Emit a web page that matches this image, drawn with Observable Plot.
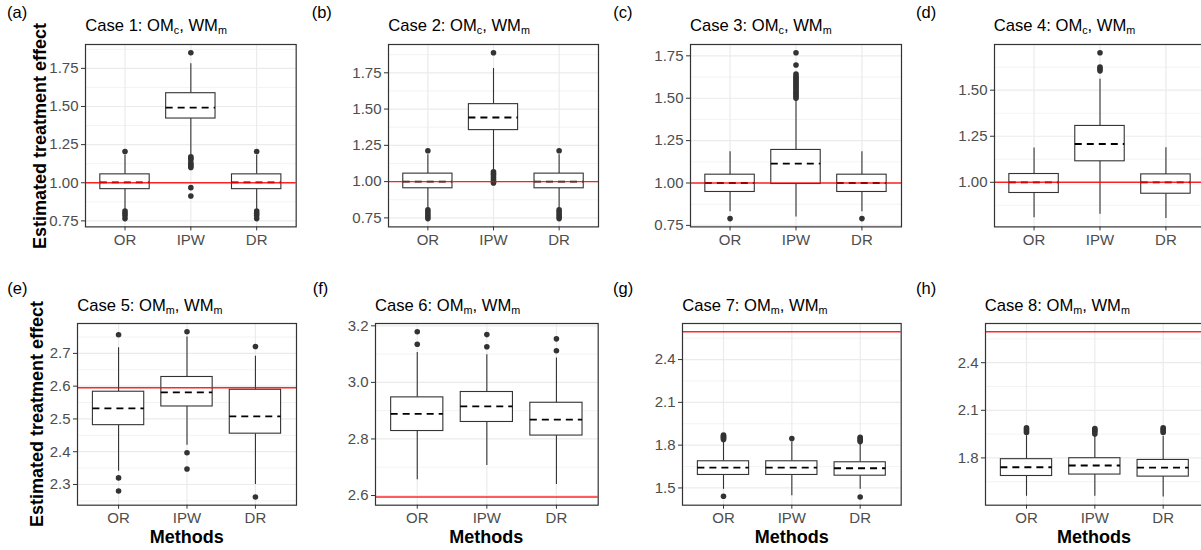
<!DOCTYPE html>
<html>
<head>
<meta charset="utf-8">
<script src="https://cdn.jsdelivr.net/npm/d3@7"></script>
<script src="https://cdn.jsdelivr.net/npm/@observablehq/plot@0.6"></script>
<style>
html, body { margin: 0; padding: 0; background: #fff; }
#root { position: relative; width: 1201px; height: 550px; overflow: hidden; background: #fff;
        font-family: "Liberation Sans", Arial, Helvetica, sans-serif; }
.lbl { position: absolute; white-space: nowrap; line-height: 1; color: #000; }
.sub { font-size: 0.65em; position: relative; top: 0.3em; }
.panel { position: absolute; }
.panel svg { overflow: visible; max-width: none !important; display: block; }
</style>
</head>
<body>
<div id="root"></div>
<script>
// ---------------- data ----------------
const methods = ["OR", "IPW", "DR"];
const panelTags = ["(a)", "(b)", "(c)", "(d)", "(e)", "(f)", "(g)", "(h)"];
const caseNumbers = [1, 2, 3, 4, 5, 6, 7, 8];
const omSubscripts = ["c", "c", "c", "c", "m", "m", "m", "m"];
const wmSubscripts = ["m", "m", "m", "m", "m", "m", "m", "m"];
const trueEffect = [1, 1, 1, 1, 2.595, 2.595, 2.595, 2.595];

const yTicks = [
  [0.75, 1.00, 1.25, 1.50, 1.75],
  [0.75, 1.00, 1.25, 1.50, 1.75],
  [0.75, 1.00, 1.25, 1.50, 1.75],
  [1.00, 1.25, 1.50],
  [2.3, 2.4, 2.5, 2.6, 2.7],
  [2.6, 2.8, 3.0, 3.2],
  [1.5, 1.8, 2.1, 2.4],
  [1.8, 2.1, 2.4]
];
const yTickFormats = [".2f", ".2f", ".2f", ".2f", ".1f", ".1f", ".1f", ".1f"];

// per panel: [OR, IPW, DR]
const whiskerLow = [
  [0.820, 1.180, 0.820],
  [0.815, 1.080, 0.815],
  [0.830, 0.800, 0.830],
  [0.808, 0.826, 0.803],
  [2.340, 2.420, 2.300],
  [2.656, 2.706, 2.639],
  [1.490, 1.446, 1.490],
  [1.558, 1.558, 1.554]
];
const q1 = [
  [0.958, 1.421, 0.958],
  [0.954, 1.355, 0.954],
  [0.947, 0.994, 0.947],
  [0.942, 1.114, 0.938],
  [2.481, 2.538, 2.455],
  [2.828, 2.860, 2.812],
  [1.591, 1.591, 1.586],
  [1.686, 1.695, 1.682]
];
const median = [
  [1.002, 1.493, 1.002],
  [1.000, 1.442, 1.000],
  [1.000, 1.114, 1.000],
  [1.000, 1.208, 1.000],
  [2.532, 2.581, 2.508],
  [2.889, 2.915, 2.868],
  [1.643, 1.643, 1.638],
  [1.741, 1.752, 1.739]
];
const q3 = [
  [1.055, 1.587, 1.055],
  [1.055, 1.534, 1.055],
  [1.049, 1.195, 1.049],
  [1.045, 1.306, 1.043],
  [2.583, 2.628, 2.589],
  [2.947, 2.966, 2.928],
  [1.687, 1.687, 1.680],
  [1.792, 1.798, 1.787]
];
const whiskerHigh = [
  [1.180, 1.780, 1.180],
  [1.185, 1.780, 1.185],
  [1.185, 1.490, 1.185],
  [1.186, 1.560, 1.188],
  [2.717, 2.750, 2.691],
  [3.106, 3.098, 3.086],
  [1.827, 1.820, 1.815],
  [1.940, 1.940, 1.935]
];
const outliers = [
  [[1.205, 0.815, 0.800, 0.785, 0.765],
   [1.852, 1.170, 1.160, 1.150, 1.130, 1.120, 1.110, 1.100, 0.968, 0.913],
   [1.205, 0.815, 0.800, 0.785, 0.765]],
  [[1.213, 0.805, 0.790, 0.775, 0.760, 0.745],
   [1.888, 1.068, 1.055, 1.045, 1.030, 1.015, 1.000, 0.990],
   [1.213, 0.805, 0.790, 0.775, 0.760, 0.745]],
  [[0.790],
   [1.768, 1.696, 1.643, 1.630, 1.620, 1.610, 1.600, 1.590, 1.580, 1.570, 1.560, 1.550, 1.540, 1.530, 1.520, 1.510, 1.500],
   [0.790]],
  [[],
   [1.703, 1.625, 1.615, 1.605],
   []],
  [[2.757, 2.320, 2.280],
   [2.766, 2.397, 2.347],
   [2.721, 2.262]],
  [[3.135, 3.179],
   [3.126, 3.169],
   [3.112, 3.154]],
  [[1.870, 1.862, 1.855, 1.848, 1.840, 1.442],
   [1.846],
   [1.855, 1.845, 1.835, 1.825, 1.437]],
  [[1.990, 1.980, 1.970, 1.960],
   [1.985, 1.975, 1.965, 1.950],
   [1.990, 1.980, 1.970, 1.960]]
];

// ---------------- layout ----------------
const FONT = '"Liberation Sans", Arial, Helvetica, sans-serif';
const frames = [
  {left: 85.3,  top: 44.3,  w: 210.7, h: 182.4},
  {left: 388.3, top: 44.3,  w: 210.0, h: 182.4},
  {left: 690.0, top: 44.3,  w: 211.0, h: 182.4},
  {left: 993.7, top: 44.3,  w: 211.0, h: 182.4},
  {left: 77.3,  top: 323.3, w: 219.0, h: 181.7},
  {left: 375.0, top: 323.3, w: 222.7, h: 181.7},
  {left: 682.3, top: 323.3, w: 218.7, h: 181.7},
  {left: 984.7, top: 323.3, w: 218.7, h: 181.7}
];
const tagX = [7, 311.7, 613.3, 916, 7.3, 312.7, 613, 916];
const rowTagTop = [3.8, 280];
const rowTitleTop = [17.7, 297.7];
const TICK_FS = 15;

const root = document.getElementById("root");
function addLabel(html, style) {
  const d = document.createElement("div");
  d.className = "lbl";
  d.innerHTML = html;
  Object.assign(d.style, style);
  root.appendChild(d);
  return d;
}

const mL = 50, mR = 4, mT = 4, mB = 30;

frames.forEach((f, p) => {
  const rows = methods.map((m, i) => ({
    method: m,
    lo: whiskerLow[p][i], q1: q1[p][i], med: median[p][i], q3: q3[p][i], hi: whiskerHigh[p][i]
  }));
  const outs = methods.flatMap((m, i) => outliers[p][i].map(v => ({method: m, v})));
  const allVals = [...whiskerLow[p], ...whiskerHigh[p], ...outliers[p].flat(), trueEffect[p]];
  const vmin = d3.min(allVals), vmax = d3.max(allVals), pad = (vmax - vmin) * 0.05;
  const domain = [vmin - pad, vmax + pad];
  const ticks = yTicks[p];
  const step = ticks[1] - ticks[0];
  const minors = d3.range(ticks[0] - step / 2, ticks[ticks.length - 1] + step, step)
    .filter(v => v >= domain[0] && v <= domain[1]);
  const majors = ticks.filter(v => v >= domain[0] && v <= domain[1]);

  const W = mL + f.w + mR, H = mT + f.h + mB;
  const chart = Plot.plot({
    width: W,
    height: H,
    marginLeft: mL, marginRight: mR, marginTop: mT, marginBottom: mB,
    style: {fontFamily: FONT, fontSize: TICK_FS + "px", background: "transparent", overflow: "visible", maxWidth: "none"},
    x: {type: "band", domain: methods, paddingInner: 0.25, paddingOuter: 0.225, round: false, axis: null},
    y: {domain, axis: null},
    marks: [
      Plot.ruleY(minors, {y: d => d, stroke: "#EBEBEB", strokeWidth: 0.6}),
      Plot.ruleY(majors, {y: d => d, stroke: "#EBEBEB", strokeWidth: 1.2}),
      Plot.ruleX(methods, {x: d => d, stroke: "#EBEBEB", strokeWidth: 1.2}),
      Plot.ruleX(rows, {x: "method", y1: "lo", y2: "q1", stroke: "#333333", strokeWidth: 1.1}),
      Plot.ruleX(rows, {x: "method", y1: "q3", y2: "hi", stroke: "#333333", strokeWidth: 1.1}),
      Plot.barY(rows, {x: "method", y1: "q1", y2: "q3", fill: "white", stroke: "#333333", strokeWidth: 1.1}),
      Plot.tickY(rows, {x: "method", y: "med", stroke: "#000", strokeWidth: 1.8, strokeDasharray: "7,5"}),
      Plot.dot(outs, {x: "method", y: "v", r: 2.8, fill: "#333333", stroke: null}),
      Plot.ruleY([trueEffect[p]], {y: d => d, stroke: "#FF0000", strokeWidth: 1.4, strokeOpacity: 0.85}),
      Plot.frame({stroke: "#333333", strokeWidth: 1.2}),
      Plot.axisY({ticks: majors, tickSize: 4, tickPadding: 3, tickFormat: d3.format(yTickFormats[p]),
                  stroke: "#333333", color: "#4D4D4D", label: null, fontSize: TICK_FS}),
      Plot.axisX({tickSize: 4, tickPadding: 3.5, stroke: "#333333", color: "#4D4D4D", label: null, fontSize: TICK_FS})
    ]
  });
  const wrap = document.createElement("div");
  wrap.className = "panel";
  wrap.style.left = (f.left - mL) + "px";
  wrap.style.top = (f.top - mT) + "px";
  wrap.style.width = W + "px";
  wrap.style.height = H + "px";
  wrap.appendChild(chart);
  root.appendChild(wrap);

  const row = p < 4 ? 0 : 1;
  addLabel(panelTags[p], {left: tagX[p] + "px", top: rowTagTop[row] + "px", fontSize: "16.5px"});
  addLabel(`Case ${caseNumbers[p]}: OM<span class="sub">${omSubscripts[p]}</span>, WM<span class="sub">${wmSubscripts[p]}</span>`,
    {left: f.left + "px", top: rowTitleTop[row] + "px", fontSize: "16.6px"});
  if (row === 1) {
    addLabel("Methods", {left: (f.left + f.w / 2) + "px", top: "528.1px", fontSize: "18px",
      fontWeight: "bold", transform: "translateX(-50%)"});
  }
});

// y axis titles (first column)
[[39.8, 135.5], [36.8, 414.2]].forEach(([cx, cy]) => {
  addLabel("Estimated treatment effect", {
    left: (cx - 150) + "px", top: (cy - 9) + "px", width: "300px", height: "18px",
    textAlign: "center", fontSize: "18px", fontWeight: "bold", transform: "rotate(-90deg)"
  });
});
</script>
</body>
</html>
